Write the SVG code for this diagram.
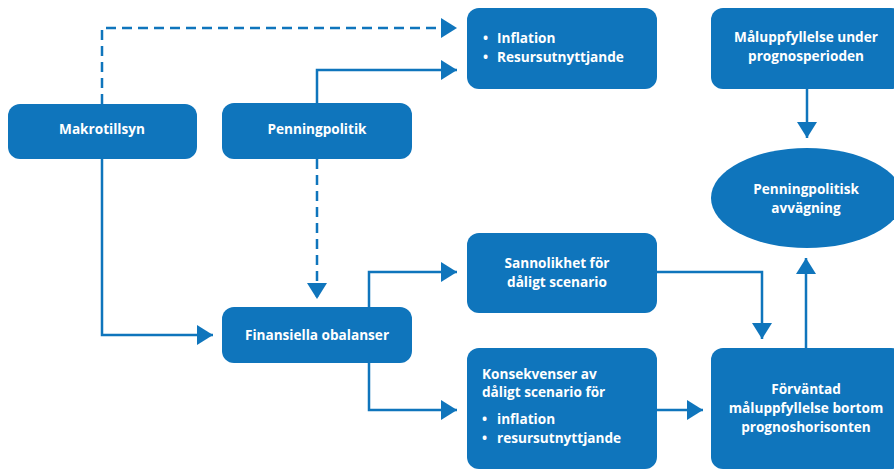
<svg xmlns="http://www.w3.org/2000/svg" width="894" height="470" viewBox="0 0 894 470">
<style>
.box{fill:#0f75bc}
.t{font-family:"Open Sans",Lato,sans-serif;font-weight:bold;font-size:13.6px;fill:#fff}
.c{text-anchor:middle}
.ln{fill:none;stroke:#0f75bc;stroke-width:2.5}
.d{stroke-dasharray:10 6}
</style>
<defs>
<marker id="ah" viewBox="0 0 16 20" refX="16" refY="10" markerWidth="16" markerHeight="20" markerUnits="userSpaceOnUse" orient="auto">
<path d="M0,0 L16,10 L0,20 Z" fill="#0f75bc"/>
</marker>
</defs>
<rect width="894" height="470" fill="#fff"/>
<g id="connectors">
<path class="ln d" d="M102,104 V28 H457" marker-end="url(#ah)"/>
<path class="ln" d="M317,103 V70 H457" marker-end="url(#ah)"/>
<path class="ln d" d="M317,159 V299" marker-end="url(#ah)"/>
<path class="ln" d="M102,159 V335 H213" marker-end="url(#ah)"/>
<path class="ln" d="M369,307 V272 H457" marker-end="url(#ah)"/>
<path class="ln" d="M369,363 V410 H457" marker-end="url(#ah)"/>
<path class="ln" d="M657,272 H762 V339" marker-end="url(#ah)"/>
<path class="ln" d="M657,410 H703" marker-end="url(#ah)"/>
<path class="ln" d="M806,348 V258" marker-end="url(#ah)"/>
<path class="ln" d="M807,89 V138" marker-end="url(#ah)"/>
</g>
<g id="makrotillsyn">
<rect class="box" x="8" y="104" width="189" height="55" rx="12"/>
<text class="t c" x="102" y="134">Makrotillsyn</text>
</g>
<g id="penningpolitik">
<rect class="box" x="222" y="103" width="190" height="56" rx="12"/>
<text class="t c" x="317" y="134">Penningpolitik</text>
</g>
<g id="inflation">
<rect class="box" x="467" y="8" width="190" height="81" rx="12"/>
<text class="t" x="483" y="43">•</text><text class="t" x="497" y="43">Inflation</text>
<text class="t" x="483" y="62">•</text><text class="t" x="497" y="62">Resursutnyttjande</text>
</g>
<g id="maluppfyllelse">
<rect class="box" x="711" y="8" width="192" height="81" rx="12"/>
<text class="t c" x="806" y="42">Måluppfyllelse under</text>
<text class="t c" x="806" y="61">prognosperioden</text>
</g>
<g id="avvagning">
<ellipse class="box" cx="807" cy="198" rx="96" ry="50"/>
<text class="t c" x="806" y="194">Penningpolitisk</text>
<text class="t c" x="806" y="213">avvägning</text>
</g>
<g id="sannolikhet">
<rect class="box" x="467" y="233" width="190" height="80" rx="12"/>
<text class="t c" x="557" y="268">Sannolikhet för</text>
<text class="t c" x="557" y="287">dåligt scenario</text>
</g>
<g id="finansiella">
<rect class="box" x="222" y="307" width="190" height="56" rx="12"/>
<text class="t c" x="317" y="340">Finansiella obalanser</text>
</g>
<g id="konsekvenser">
<rect class="box" x="467" y="348" width="190" height="121" rx="12"/>
<text class="t" x="482" y="379">Konsekvenser av</text>
<text class="t" x="482" y="397">dåligt scenario för</text>
<text class="t" x="482" y="424">•</text><text class="t" x="497" y="424">inflation</text>
<text class="t" x="482" y="443">•</text><text class="t" x="497" y="443">resursutnyttjande</text>
</g>
<g id="forvantad">
<rect class="box" x="711" y="348" width="192" height="121" rx="12"/>
<text class="t c" x="806" y="394">Förväntad</text>
<text class="t c" x="806" y="413">måluppfyllelse bortom</text>
<text class="t c" x="806" y="432">prognoshorisonten</text>
</g>
</svg>
